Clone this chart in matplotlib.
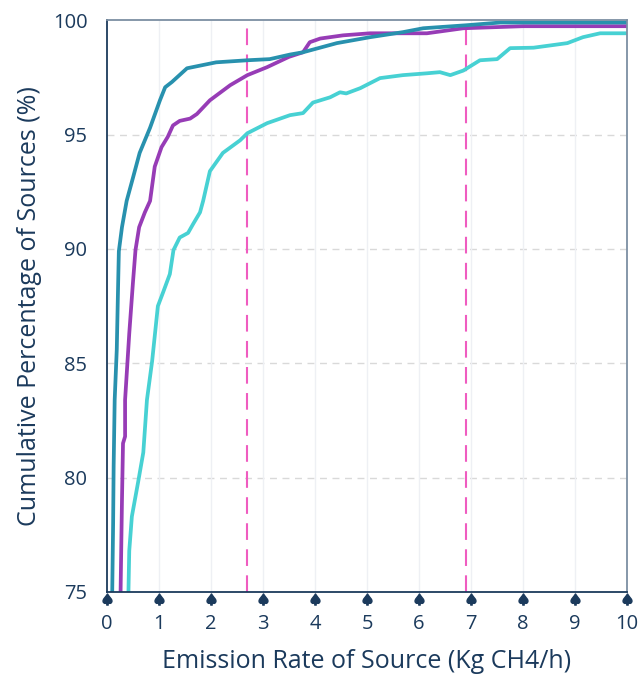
import matplotlib.pyplot as plt
import numpy as np

# teal series
x_teal = [0.10, 0.12, 0.13, 0.15, 0.17, 0.19, 0.21, 0.23, 0.29, 0.38, 0.50, 0.63, 0.83,
          1.02, 1.12, 1.25, 1.54, 2.10, 2.70, 3.13, 3.52, 3.77, 4.42, 5.06, 5.69, 6.08,
          6.90, 7.56, 10.0]
y_teal = [74.5, 78.0, 80.5, 83.4, 84.5, 85.6, 87.8, 89.9, 90.95, 92.1, 93.1, 94.2, 95.3,
          96.5, 97.07, 97.3, 97.9, 98.16, 98.25, 98.3, 98.5, 98.6, 99.0, 99.26, 99.48, 99.65,
          99.78, 99.9, 99.9]

# purple series
x_purple = [0.26, 0.29, 0.31, 0.35, 0.35, 0.43, 0.50, 0.55, 0.62, 0.73, 0.83, 0.92, 1.05,
            1.17, 1.27, 1.40, 1.60, 1.73, 1.98, 2.37, 2.70, 3.08, 3.50, 3.77, 3.90, 4.10,
            4.54, 5.06, 6.15, 6.85, 8.0, 10.0]
y_purple = [74.5, 79.0, 81.5, 81.8, 83.4, 86.3, 88.5, 89.95, 90.95, 91.6, 92.1, 93.6, 94.45,
            94.9, 95.4, 95.6, 95.7, 95.9, 96.5, 97.16, 97.6, 97.95, 98.4, 98.6, 99.04, 99.2,
            99.34, 99.43, 99.43, 99.65, 99.74, 99.74]

# cyan series
x_cyan = [0.41, 0.43, 0.48, 0.60, 0.70, 0.77, 0.87, 0.98, 1.08, 1.21, 1.28, 1.40, 1.56,
          1.66, 1.79, 1.85, 1.98, 2.23, 2.56, 2.70, 3.08, 3.52, 3.77, 3.96, 4.29, 4.48,
          4.60, 4.87, 5.25, 5.69, 6.15, 6.40, 6.60, 6.85, 7.17, 7.50, 7.75, 8.20, 8.85,
          9.15, 9.48, 10.0]
y_cyan = [74.5, 76.8, 78.3, 79.8, 81.1, 83.4, 85.1, 87.5, 88.1, 88.9, 89.95, 90.5, 90.7,
          91.1, 91.6, 92.1, 93.4, 94.2, 94.75, 95.06, 95.5, 95.85, 95.94, 96.4, 96.63, 96.85,
          96.8, 97.03, 97.47, 97.6, 97.68, 97.73, 97.6, 97.8, 98.25, 98.3, 98.78, 98.8, 99.0,
          99.26, 99.43, 99.43]

v_lines = [2.7, 6.9]
x_ticks = list(range(0, 11))
y_ticks = [75, 80, 85, 90, 95, 100]

navy = '#1b3a5c'
plt.rcParams['font.family'] = ['Open Sans', 'DejaVu Sans']

fig = plt.figure(figsize=(6.4, 6.75), dpi=100)
ax = fig.add_axes([0.167, 0.123, 0.813, 0.847])

# grid
for yv in y_ticks[1:-1]:
    ax.axhline(yv, color='#d9d9d9', lw=1, ls=(0, (5, 4)), zorder=0)
for xv in x_ticks[1:-1]:
    ax.axvline(xv, color='#eef0f4', lw=1, zorder=0)

ax.plot(x_cyan, y_cyan, color='#47d1d3', lw=2.7, solid_capstyle='round')
ax.plot(x_purple, y_purple, color='#973cb6', lw=2.7, solid_capstyle='round')
ax.plot(x_teal, y_teal, color='#2891ae', lw=2.7, solid_capstyle='round')

for xv in v_lines:
    ax.axvline(xv, color='#ef5cc0', lw=1.5, ls=(0, (8, 4.5)), zorder=1)

ax.set_xlim(0, 10)
ax.set_ylim(75, 100)
ax.set_xticks(x_ticks)
ax.set_yticks(y_ticks)
ax.tick_params(axis='both', length=0, colors=navy, labelsize=14.5)
ax.tick_params(axis='x', pad=16)
ax.tick_params(axis='y', pad=14)

# spade-like tick markers under the axis
ax.plot(x_ticks, [-0.013] * len(x_ticks), transform=ax.get_xaxis_transform(),
        marker=r'$\spadesuit$', ls='none', ms=8, color=navy, clip_on=False)

for s in ['left', 'bottom']:
    ax.spines[s].set_color(navy)
    ax.spines[s].set_linewidth(1.3)
for s in ['top', 'right']:
    ax.spines[s].set_color('#7c8fa3')
    ax.spines[s].set_linewidth(1.3)

ax.set_xlabel('Emission Rate of Source (Kg CH4/h)', color=navy, fontsize=18, labelpad=11)
ax.set_ylabel('Cumulative Percentage of Sources (%)', color=navy, fontsize=18, labelpad=8)

plt.savefig('out.png', dpi=100)
